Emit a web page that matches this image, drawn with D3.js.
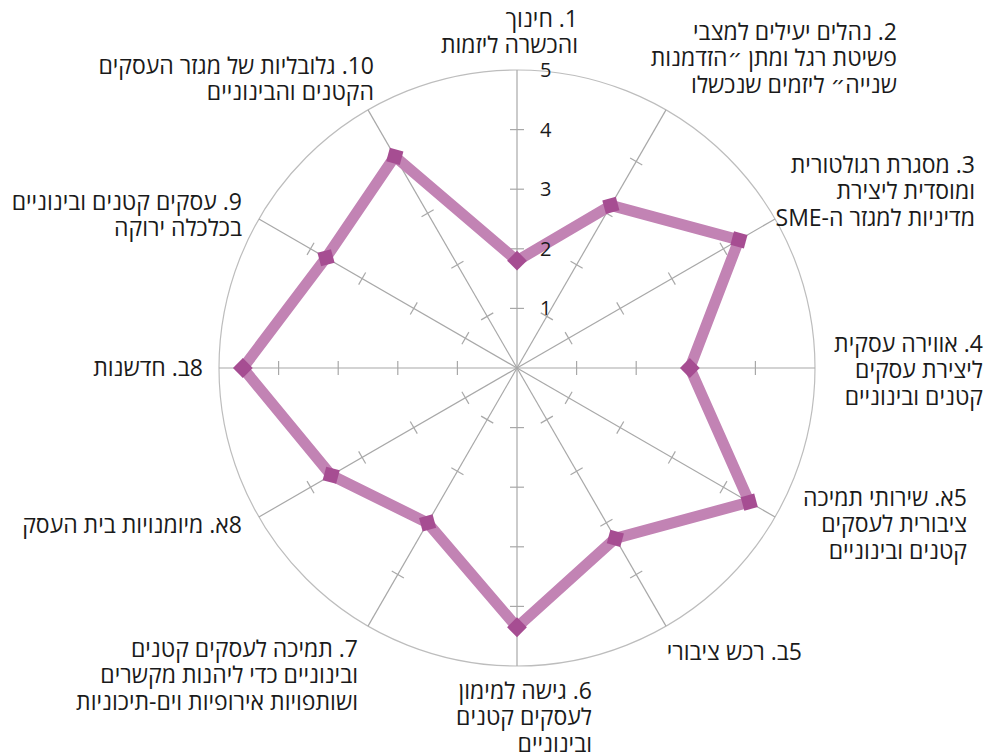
<!DOCTYPE html>
<html>
<head>
<meta charset="utf-8">
<script src="https://cdn.jsdelivr.net/npm/d3@7"></script>
<style>
  body { margin: 0; background: #fff; }
  svg text { font-family: "Open Sans", "DejaVu Sans", sans-serif; fill: #1a1a1a; }
</style>
</head>
<body>
<script>
// axis categories (each entry = lines of the label)
var categories = [
  ["1. חינוך", "והכשרה ליזמות"],
  ["2. נהלים יעילים למצבי", "פשיטת רגל ומתן ״הזדמנות", "שנייה״ ליזמים שנכשלו"],
  ["3. מסגרת רגולטורית", "ומוסדית ליצירת", "מדיניות למגזר ה-SME"],
  ["4. אווירה עסקית", "ליצירת עסקים", "קטנים ובינוניים"],
  ["5א. שירותי תמיכה", "ציבורית לעסקים", "קטנים ובינוניים"],
  ["5ב. רכש ציבורי"],
  ["6. גישה למימון", "לעסקים קטנים", "ובינוניים"],
  ["7. תמיכה לעסקים קטנים", "ובינוניים כדי ליהנות מקשרים", "ושותפויות אירופיות וים-תיכוניות"],
  ["8א. מיומנויות בית העסק"],
  ["8ב. חדשנות"],
  ["9. עסקים קטנים ובינוניים", "בכלכלה ירוקה"],
  ["10. גלובליות של מגזר העסקים", "הקטנים והבינוניים"]
];
var values = [1.8, 3.15, 4.3, 2.9, 4.5, 3.3, 4.35, 3.0, 3.6, 4.6, 3.7, 4.1];
var tickValues = [1, 2, 3, 4, 5];

// label anchors: right edge x, centre y of first line
var labelPos = [
  [578, 20], [897, 33], [975, 166], [983, 345], [967, 499], [802, 653],
  [592, 692], [358, 650], [242, 526], [203, 369], [242, 203], [374, 67]
];

var W = 995, H = 755;
var cx = 517, cy = 368, R = 298;
var lineH = 26.5;

var svg = d3.select("body").append("svg")
  .attr("width", W)
  .attr("height", H);

var r = d3.scaleLinear().domain([0, 5]).range([0, R]);
var n = categories.length;
function ang(i) { return i * 2 * Math.PI / n; }

var g = svg.append("g").attr("transform", "translate(" + cx + "," + cy + ")");

// outer circle
g.append("circle")
  .attr("r", r(5))
  .attr("fill", "none")
  .attr("stroke", "#bdbdbd")
  .attr("stroke-width", 1.2);

// spokes + tick marks
categories.forEach(function(c, i) {
  var a = ang(i);
  var sx = Math.sin(a), sy = -Math.cos(a);
  g.append("line")
    .attr("x1", 0).attr("y1", 0)
    .attr("x2", r(5) * sx).attr("y2", r(5) * sy)
    .attr("stroke", "#a8a8a8")
    .attr("stroke-width", 1.2);
  tickValues.slice(0, 4).forEach(function(t) {
    var px = r(t) * sx, py = r(t) * sy;
    g.append("line")
      .attr("x1", px - 7 * Math.cos(a)).attr("y1", py - 7 * Math.sin(a))
      .attr("x2", px + 7 * Math.cos(a)).attr("y2", py + 7 * Math.sin(a))
      .attr("stroke", "#a8a8a8")
      .attr("stroke-width", 1.2);
  });
});

// data polygon
var radial = d3.lineRadial()
  .angle(function(d, i) { return ang(i); })
  .radius(function(d) { return r(d); })
  .curve(d3.curveLinearClosed);

g.append("path")
  .datum(values)
  .attr("d", radial)
  .attr("fill", "none")
  .attr("stroke", "#c283b4")
  .attr("stroke-width", 11)
  .attr("stroke-linejoin", "round");

// markers: squares turned with the axis
g.selectAll(".mk")
  .data(values)
  .enter().append("rect")
  .attr("class", "mk")
  .attr("x", -7).attr("y", -7)
  .attr("width", 14).attr("height", 14)
  .attr("fill", "#a64d92")
  .attr("transform", function(d, i) {
    var a = ang(i);
    return "translate(" + (r(d) * Math.sin(a)) + "," + (-r(d) * Math.cos(a)) + ") rotate(" + (a * 180 / Math.PI + 45) + ")";
  });

// value tick labels on first axis
svg.selectAll(".tl")
  .data(tickValues)
  .enter().append("text")
  .attr("class", "tl")
  .attr("x", cx + 23)
  .attr("y", function(d) { return cy - r(d); })
  .attr("dy", "0.35em")
  .style("font-size", "20px")
  .text(function(d) { return d; });

// category labels, one text per line
categories.forEach(function(lines, i) {
  lines.forEach(function(s, k) {
    svg.append("text")
      .attr("direction", "rtl")
      .attr("text-anchor", "start")
      .style("font-size", "23px")
      .attr("x", labelPos[i][0])
      .attr("y", labelPos[i][1] + k * lineH)
      .attr("dy", "0.3em")
      .text(s);
  });
});
</script>
</body>
</html>
